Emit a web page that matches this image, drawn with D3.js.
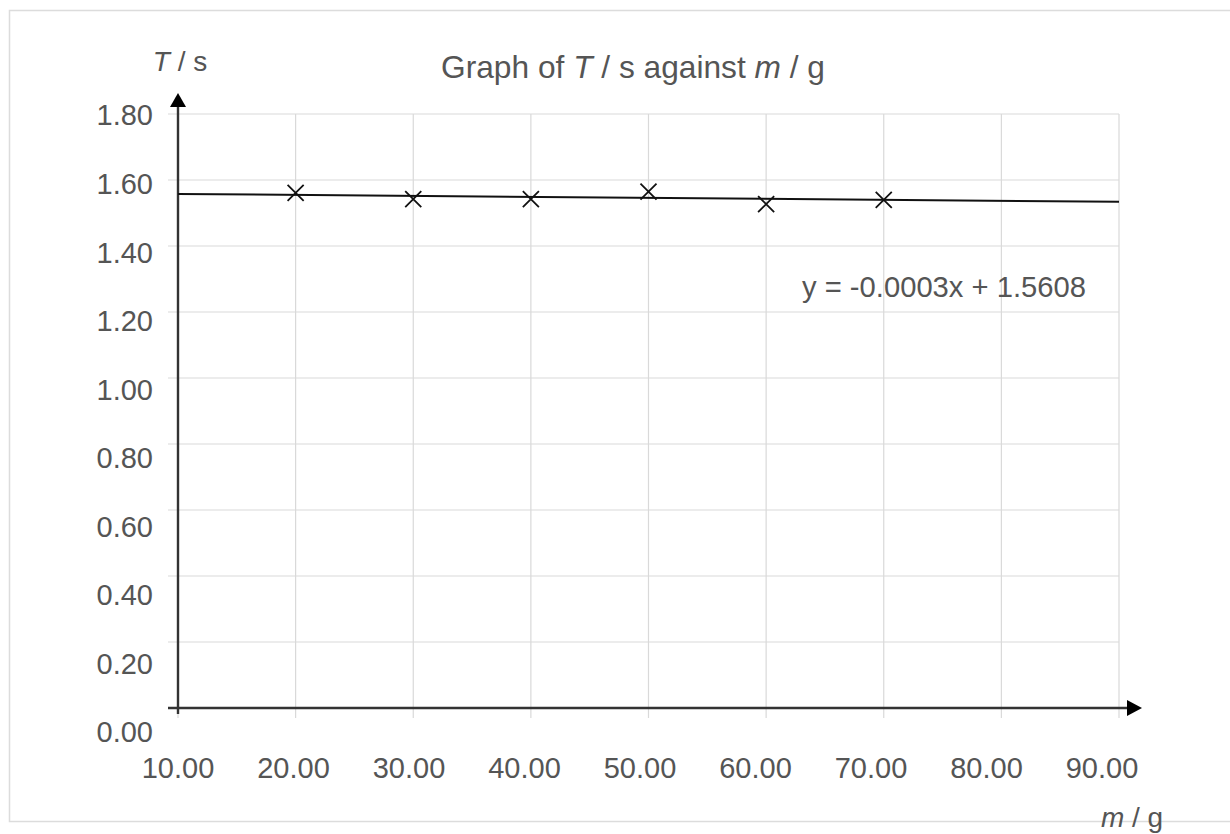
<!DOCTYPE html>
<html>
<head>
<meta charset="utf-8">
<script src="https://cdn.jsdelivr.net/npm/d3@7"></script>
<style>
  body { margin: 0; background: #fff; }
  text { font-family: "Liberation Sans", Arial, sans-serif; fill: #555; }
</style>
</head>
<body>
<div id="container"></div>
<script>
let w = 1230;
let h = 834;

// data
let masses = [20, 30, 40, 50, 60, 70];
let periods = [1.561, 1.542, 1.542, 1.565, 1.527, 1.540];
let xTicks = [10, 20, 30, 40, 50, 60, 70, 80, 90];
let yTicks = [0, 0.2, 0.4, 0.6, 0.8, 1.0, 1.2, 1.4, 1.6, 1.8];
let trendSlope = -0.0003;
let trendIntercept = 1.5608;
let trendLabel = "y = -0.0003x + 1.5608";

let viz = d3.select("#container")
  .append("svg")
    .attr("width", w)
    .attr("height", h)
    .style("background-color", "#FFFFFF")
;

let x = d3.scaleLinear().domain([10, 90]).range([178, 1119]);
let y = d3.scaleLinear().domain([0, 1.8]).range([708, 114]);
// the tick labels drift a little from the grid in the original
let xLab = d3.scaleLinear().domain([10, 90]).range([178, 1102]);
let yLab = d3.scaleLinear().domain([0, 1.8]).range([732, 115]);

// outer frame
viz.append("rect")
    .attr("x", 9.5)
    .attr("y", 10.5)
    .attr("width", 1240)
    .attr("height", 811)
    .attr("fill", "none")
    .attr("stroke", "#dcdcdc")
    .attr("stroke-width", 1.5)
;

// grid (runs past the axes like ticks)
viz.selectAll(".vgrid").data(xTicks).enter()
  .append("line")
    .attr("class", "vgrid")
    .attr("x1", d => x(d))
    .attr("x2", d => x(d))
    .attr("y1", y(1.8))
    .attr("y2", y(0) + 10)
    .attr("stroke", "#d9d9d9")
    .attr("stroke-width", 1.2)
;
viz.selectAll(".hgrid").data(yTicks).enter()
  .append("line")
    .attr("class", "hgrid")
    .attr("x1", x(10) - 10)
    .attr("x2", x(90))
    .attr("y1", d => y(d))
    .attr("y2", d => y(d))
    .attr("stroke", "#d9d9d9")
    .attr("stroke-width", 1.2)
;

// axes with arrow heads
viz.append("line")
    .attr("x1", x(10))
    .attr("x2", x(10))
    .attr("y1", y(0) + 6)
    .attr("y2", 104)
    .attr("stroke", "#333")
    .attr("stroke-width", 2.4)
;
viz.append("path")
    .attr("d", "M" + x(10) + ",93 l-8,14 l16,0 z")
    .attr("fill", "#000")
;
viz.append("line")
    .attr("x1", x(10) - 10)
    .attr("x2", 1128)
    .attr("y1", y(0))
    .attr("y2", y(0))
    .attr("stroke", "#333")
    .attr("stroke-width", 2.4)
;
viz.append("path")
    .attr("d", "M1142," + y(0) + " l-15,-8 l0,16 z")
    .attr("fill", "#000")
;

// tick labels
viz.selectAll(".xlab").data(xTicks).enter()
  .append("text")
    .attr("class", "xlab")
    .attr("x", d => xLab(d))
    .attr("y", 778)
    .attr("text-anchor", "middle")
    .style("font-size", "29px")
    .text(d => d.toFixed(2))
;
viz.selectAll(".ylab").data(yTicks).enter()
  .append("text")
    .attr("class", "ylab")
    .attr("x", 153)
    .attr("y", d => yLab(d))
    .attr("dy", "0.36em")
    .attr("text-anchor", "end")
    .style("font-size", "29px")
    .text(d => d.toFixed(2))
;

// trend line
let trendPts = x.domain().map(m => [m, trendSlope * m + trendIntercept]);
viz.append("path")
    .datum(trendPts)
    .attr("d", d3.line().x(d => x(d[0])).y(d => y(d[1])))
    .attr("fill", "none")
    .attr("stroke", "#111")
    .attr("stroke-width", 2)
;

// crosses
let cross = d3.symbol().type(d3.symbolX).size(170);
viz.selectAll(".pt").data(masses).enter()
  .append("path")
    .attr("class", "pt")
    .attr("d", cross)
    .attr("transform", (d, i) => "translate(" + x(d) + "," + y(periods[i]) + ")")
    .attr("fill", "none")
    .attr("stroke", "#111")
    .attr("stroke-width", 1.8)
;

viz.append("text")
    .attr("x", 802)
    .attr("y", 297)
    .style("font-size", "29.2px")
    .text(trendLabel)
;

// title and axis names
let title = viz.append("text")
    .attr("x", 633)
    .attr("y", 78)
    .attr("text-anchor", "middle")
    .style("font-size", "31.7px")
;
title.append("tspan").text("Graph of ");
title.append("tspan").style("font-style", "italic").text("T");
title.append("tspan").text(" / s against ");
title.append("tspan").style("font-style", "italic").text("m");
title.append("tspan").text(" / g");

let tLab = viz.append("text")
    .attr("x", 180)
    .attr("y", 71)
    .attr("text-anchor", "middle")
    .style("font-size", "28px")
;
tLab.append("tspan").style("font-style", "italic").text("T");
tLab.append("tspan").text(" / s");

let mLab = viz.append("text")
    .attr("x", 1132)
    .attr("y", 827)
    .attr("text-anchor", "middle")
    .style("font-size", "28px")
;
mLab.append("tspan").style("font-style", "italic").text("m");
mLab.append("tspan").text(" / g");
</script>
</body>
</html>
